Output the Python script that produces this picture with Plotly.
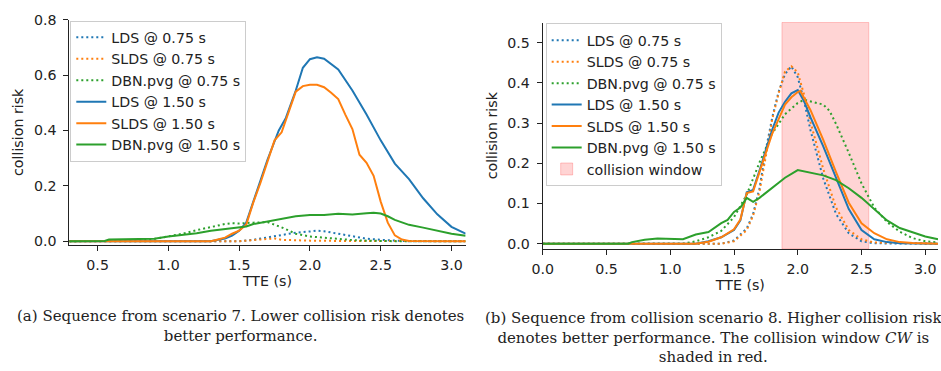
import plotly.graph_objects as go

# ---------------- data: left panel (scenario 7) ----------------
a_lds150_x = [0.3, 1.3, 1.35, 1.4, 1.45, 1.5, 1.55, 1.6, 1.65, 1.7, 1.78, 1.83, 1.9, 1.95, 2.0, 2.05, 2.1, 2.2, 2.3, 2.4, 2.5, 2.6, 2.7, 2.8, 2.9, 3.0, 3.1]
a_lds150_y = [0.0, 0.0, 0.005, 0.01, 0.02, 0.038, 0.067, 0.143, 0.219, 0.294, 0.40, 0.445, 0.544, 0.626, 0.657, 0.664, 0.659, 0.62, 0.544, 0.457, 0.364, 0.28, 0.224, 0.155, 0.097, 0.052, 0.027]

a_slds150_x = [0.3, 1.3, 1.35, 1.4, 1.45, 1.5, 1.55, 1.6, 1.65, 1.7, 1.75, 1.8, 1.85, 1.9, 1.95, 2.0, 2.05, 2.1, 2.15, 2.2, 2.25, 2.3, 2.35, 2.4, 2.45, 2.5, 2.55, 2.6, 2.65, 2.7, 3.1]
a_slds150_y = [0.0, 0.0, 0.006, 0.013, 0.027, 0.038, 0.06, 0.14, 0.21, 0.285, 0.364, 0.393, 0.469, 0.54, 0.56, 0.565, 0.565, 0.556, 0.536, 0.513, 0.457, 0.405, 0.312, 0.283, 0.236, 0.143, 0.067, 0.021, 0.006, 0.001, 0.0]

a_dbn150_x = [0.3, 0.55, 0.58, 0.7, 0.8, 0.9, 1.0, 1.1, 1.2, 1.3, 1.4, 1.5, 1.55, 1.6, 1.7, 1.8, 1.9, 2.0, 2.1, 2.2, 2.3, 2.4, 2.45, 2.5, 2.55, 2.6, 2.7, 2.8, 2.9, 3.0, 3.1]
a_dbn150_y = [0.0, 0.001, 0.006, 0.007, 0.008, 0.009, 0.017, 0.023, 0.029, 0.038, 0.045, 0.05, 0.053, 0.062, 0.071, 0.081, 0.09, 0.095, 0.095, 0.099, 0.096, 0.101, 0.103, 0.1, 0.09, 0.077, 0.059, 0.049, 0.038, 0.027, 0.02]

a_lds075_x = [0.3, 1.5, 1.6, 1.7, 1.8, 1.9, 2.0, 2.05, 2.1, 2.2, 2.3, 2.4, 2.5, 2.6, 2.7, 3.1]
a_lds075_y = [0.0, 0.0, 0.005, 0.013, 0.023, 0.031, 0.035, 0.038, 0.036, 0.027, 0.017, 0.009, 0.005, 0.002, 0.0, 0.0]

a_slds075_x = [0.3, 1.5, 1.6, 1.7, 1.75, 1.8, 1.9, 2.0, 2.2, 3.1]
a_slds075_y = [0.0, 0.0, 0.004, 0.009, 0.01, 0.005, 0.003, 0.002, 0.001, 0.0]

a_dbn075_x = [0.3, 0.8, 0.9, 1.0, 1.1, 1.2, 1.3, 1.4, 1.45, 1.5, 1.6, 1.7, 1.8, 1.9, 2.0, 2.1, 2.2, 2.3, 2.4, 2.5, 2.6, 3.1]
a_dbn075_y = [0.0, 0.002, 0.008, 0.017, 0.027, 0.04, 0.052, 0.062, 0.065, 0.064, 0.067, 0.069, 0.05, 0.027, 0.017, 0.013, 0.007, 0.004, 0.002, 0.001, 0.0, 0.0]

# ---------------- data: right panel (collision scenario 8) ----------------
b_lds150_x = [0.0, 1.2, 1.3, 1.4, 1.5, 1.55, 1.6, 1.65, 1.7, 1.75, 1.8, 1.85, 1.9, 1.95, 2.0, 2.05, 2.1, 2.2, 2.3, 2.4, 2.5, 2.6, 2.7, 2.8, 3.1]
b_lds150_y = [0.0, 0.0, 0.006, 0.016, 0.034, 0.058, 0.128, 0.134, 0.182, 0.234, 0.284, 0.326, 0.353, 0.374, 0.382, 0.354, 0.314, 0.242, 0.162, 0.086, 0.034, 0.011, 0.004, 0.001, 0.0]

b_slds150_x = [0.0, 1.2, 1.3, 1.4, 1.5, 1.55, 1.6, 1.65, 1.7, 1.8, 1.9, 1.95, 2.0, 2.02, 2.1, 2.2, 2.3, 2.4, 2.5, 2.6, 2.7, 2.8, 2.9, 3.0, 3.1]
b_slds150_y = [0.0, 0.0, 0.005, 0.016, 0.036, 0.06, 0.126, 0.13, 0.178, 0.274, 0.346, 0.364, 0.377, 0.38, 0.332, 0.258, 0.178, 0.102, 0.051, 0.026, 0.011, 0.004, 0.002, 0.001, 0.0]

b_dbn150_x = [0.0, 0.67, 0.7, 0.8, 0.9, 1.0, 1.1, 1.2, 1.25, 1.3, 1.4, 1.45, 1.5, 1.55, 1.6, 1.65, 1.7, 1.8, 1.9, 2.0, 2.1, 2.2, 2.3, 2.4, 2.5, 2.6, 2.7, 2.8, 2.9, 3.0, 3.1]
b_dbn150_y = [0.0, 0.0, 0.004, 0.01, 0.013, 0.012, 0.011, 0.023, 0.026, 0.029, 0.051, 0.059, 0.079, 0.09, 0.114, 0.104, 0.114, 0.139, 0.164, 0.183, 0.176, 0.17, 0.158, 0.138, 0.114, 0.086, 0.058, 0.039, 0.028, 0.018, 0.011]

b_lds075_x = [0.0, 1.4, 1.5, 1.6, 1.65, 1.7, 1.75, 1.8, 1.85, 1.9, 1.95, 2.0, 2.05, 2.1, 2.2, 2.3, 2.4, 2.5, 2.6, 3.1]
b_lds075_y = [0.0, 0.0, 0.008, 0.038, 0.074, 0.138, 0.234, 0.314, 0.378, 0.422, 0.441, 0.414, 0.354, 0.282, 0.162, 0.074, 0.026, 0.006, 0.001, 0.0]

b_slds075_x = [0.0, 1.4, 1.5, 1.6, 1.65, 1.7, 1.75, 1.8, 1.85, 1.9, 1.95, 2.0, 2.05, 2.1, 2.2, 2.3, 2.4, 2.5, 2.6, 3.1]
b_slds075_y = [0.0, 0.0, 0.006, 0.034, 0.07, 0.13, 0.218, 0.31, 0.374, 0.428, 0.441, 0.426, 0.37, 0.302, 0.186, 0.09, 0.034, 0.011, 0.003, 0.0]

b_dbn075_x = [0.0, 1.1, 1.2, 1.3, 1.4, 1.5, 1.55, 1.6, 1.7, 1.8, 1.9, 2.0, 2.05, 2.1, 2.2, 2.25, 2.3, 2.4, 2.5, 2.6, 2.7, 2.8, 2.9, 3.0, 3.1]
b_dbn075_y = [0.0, 0.0, 0.006, 0.016, 0.032, 0.066, 0.094, 0.122, 0.202, 0.274, 0.322, 0.35, 0.358, 0.354, 0.346, 0.33, 0.298, 0.226, 0.15, 0.09, 0.054, 0.03, 0.014, 0.006, 0.003]

collision_window = [1.876, 2.557]

names = ["LDS @ 0.75 s", "SLDS @ 0.75 s", "DBN.pvg @ 0.75 s", "LDS @ 1.50 s", "SLDS @ 1.50 s", "DBN.pvg @ 1.50 s"]
colors = ["#1f77b4", "#ff7f0e", "#2ca02c"]

caption_a = "(a) Sequence from scenario 7. Lower collision risk denotes<br>better performance."
caption_b = "(b) Sequence from collision scenario 8. Higher collision risk<br>denotes better performance. The collision window <i>CW</i> is<br>shaded in red."

# ---------------- figure ----------------
W, H = 941, 371
FS = 14.2
fig = go.Figure()

left_series = [(a_lds075_x, a_lds075_y), (a_slds075_x, a_slds075_y), (a_dbn075_x, a_dbn075_y),
               (a_lds150_x, a_lds150_y), (a_slds150_x, a_slds150_y), (a_dbn150_x, a_dbn150_y)]
right_series = [(b_lds075_x, b_lds075_y), (b_slds075_x, b_slds075_y), (b_dbn075_x, b_dbn075_y),
                (b_lds150_x, b_lds150_y), (b_slds150_x, b_slds150_y), (b_dbn150_x, b_dbn150_y)]

for i, (xs, ys) in enumerate(left_series):
    fig.add_trace(go.Scatter(x=xs, y=ys, mode="lines", name=names[i], xaxis="x", yaxis="y",
                             line=dict(color=colors[i % 3], width=2, dash="2px,3px" if i < 3 else "solid"),
                             legend="legend"))
for i, (xs, ys) in enumerate(right_series):
    fig.add_trace(go.Scatter(x=xs, y=ys, mode="lines", name=names[i], xaxis="x2", yaxis="y2",
                             line=dict(color=colors[i % 3], width=2, dash="2px,3px" if i < 3 else "solid"),
                             legend="legend2"))

fig.add_shape(type="rect", xref="x2", yref="y2 domain", x0=collision_window[0], x1=collision_window[1],
              y0=0, y1=1, fillcolor="rgba(255,0,0,0.17)", line=dict(color="rgba(255,0,0,0.2)", width=1),
              layer="below", showlegend=True, legend="legend2", name="collision window", legendrank=2000)

tickfont = dict(family="DejaVu Sans", size=FS, color="#222")
axis_common = dict(showline=True, linecolor="#222", linewidth=1, ticks="outside", ticklen=5,
                   tickwidth=1, tickcolor="#222", showgrid=False, zeroline=False, tickfont=tickfont,
                   tickformat=".1f", mirror=False)

legend_common = dict(xanchor="left", yanchor="top", bgcolor="rgba(255,255,255,0.85)",
                     bordercolor="#ccc", borderwidth=1, itemwidth=30,
                     font=dict(family="DejaVu Sans", size=FS, color="#222"))

fig.update_layout(
    width=W, height=H, margin=dict(l=0, r=0, t=0, b=0),
    paper_bgcolor="white", plot_bgcolor="white",
    font=dict(family="DejaVu Sans", size=FS, color="#222"),
    xaxis=dict(domain=[59 / W, 460 / W], range=[0.3, 3.1], anchor="y", dtick=0.5, tick0=0.5,
               ticklabelstandoff=2,
               title=dict(text="TTE (s)", standoff=2, font=dict(size=FS)), **axis_common),
    yaxis=dict(domain=[(H - 245) / H, (H - 12) / H], range=[-0.014, 0.8], anchor="x", dtick=0.2,
               ticklabelstandoff=4,
               title=dict(text="collision risk", standoff=6, font=dict(size=FS)), **axis_common),
    xaxis2=dict(domain=[538 / W, 938 / W], range=[0.0, 3.1], anchor="y2", dtick=0.5, tick0=0,
                ticklabelstandoff=2,
                title=dict(text="TTE (s)", standoff=2, font=dict(size=FS)), **axis_common),
    yaxis2=dict(domain=[(H - 249) / H, (H - 15) / H], range=[-0.013, 0.55], anchor="x2", dtick=0.1,
                ticklabelstandoff=4,
                title=dict(text="collision risk", standoff=6, font=dict(size=FS)), **axis_common),
    legend=dict(x=60 / W, y=(H - 13) / H, **legend_common),
    legend2=dict(x=541 / W, y=(H - 16) / H, **legend_common),
    showlegend=True,
)

serif = dict(family="DejaVu Serif", size=15, color="#222")
fig.add_annotation(text=caption_a, xref="paper", yref="paper", x=232 / W, y=(H - 307) / H,
                   xanchor="center", yanchor="top", showarrow=False, font=serif, align="center")
fig.add_annotation(text=caption_b, xref="paper", yref="paper", x=711 / W, y=(H - 309) / H,
                   xanchor="center", yanchor="top", showarrow=False, font=serif, align="center")

fig.write_html("out.html")
